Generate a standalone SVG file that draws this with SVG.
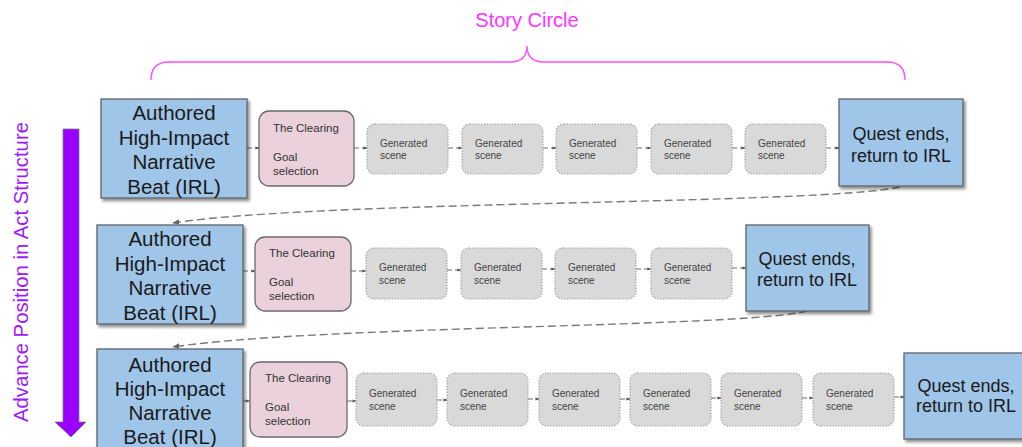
<svg xmlns="http://www.w3.org/2000/svg" width="1022" height="447" viewBox="0 0 1022 447">
<defs>
<style>
.blue{fill:#9fc5e8;stroke:#5f6368;stroke-width:1.3;filter:url(#sh)}
.pink{fill:#ead1dc;stroke:#6b6b6b;stroke-width:1.3}
.gen{fill:#d9d9d9;stroke:#9a9a9a;stroke-width:1.2;stroke-dasharray:1.2 1.6}
.t{font-family:"Liberation Sans",Arial,sans-serif;fill:#1a1a1a}
.bt{font-size:20.5px;text-anchor:middle}
.qt{font-size:18px;text-anchor:middle}
.pt{font-size:11.5px;fill:#333}
.gt{font-size:10px;fill:#444}
.c{fill:none;stroke:#6a6a6a;stroke-width:1.2;stroke-dasharray:5 3}
.r{fill:none;stroke:#7a7a7a;stroke-width:1.4;stroke-dasharray:8 4}
</style>
<filter id="sh" x="-10%" y="-10%" width="130%" height="130%">
<feDropShadow dx="2" dy="2.5" stdDeviation="1.8" flood-color="#000" flood-opacity="0.45"/>
</filter>
<marker id="ah" viewBox="0 0 10 10" refX="9" refY="5" markerWidth="4" markerHeight="4" orient="auto" markerUnits="userSpaceOnUse">
<path d="M0,1 L10,5 L0,9 z" fill="#555"/>
</marker>
<marker id="ah2" viewBox="0 0 10 10" refX="9" refY="5" markerWidth="7" markerHeight="7" orient="auto" markerUnits="userSpaceOnUse">
<path d="M0,1 L10,5 L0,9 z" fill="#666"/>
</marker>
</defs>

<g id="story-circle">
<text x="527" y="27" font-family="Liberation Sans, Arial, sans-serif" font-size="20" fill="#ff33ff" text-anchor="middle">Story Circle</text>
<path d="M151,80 Q151,62 169,62 L510,62 Q527,62 527,46 Q527,62 544,62 L887,62 Q905,62 905,80" fill="none" stroke="#ff4dff" stroke-width="1.4"/>
</g>

<g id="act-axis">
<text transform="translate(28,272) rotate(-90)" font-family="Liberation Sans, Arial, sans-serif" font-size="20.3" fill="#9d1aff" text-anchor="middle">Advance Position in Act Structure</text>
<path d="M63,129 L79,129 L79,422 L86,422 L71,437 L55,422 L63,422 Z" fill="#9900ff" stroke="#7a7a7a" stroke-width="0.8"/>
</g>

<g id="connectors">
<line class="c" x1="247" y1="148" x2="259" y2="148" marker-end="url(#ah)"/>
<line class="c" x1="354" y1="148" x2="367" y2="148" marker-end="url(#ah)"/>
<line class="c" x1="448" y1="148" x2="462" y2="148" marker-end="url(#ah)"/>
<line class="c" x1="543" y1="148" x2="556" y2="148" marker-end="url(#ah)"/>
<line class="c" x1="637" y1="148" x2="651" y2="148" marker-end="url(#ah)"/>
<line class="c" x1="732" y1="148" x2="745" y2="148" marker-end="url(#ah)"/>
<line class="c" x1="826" y1="148" x2="839" y2="148" marker-end="url(#ah)"/>
<line class="c" x1="243" y1="271" x2="255" y2="271" marker-end="url(#ah)"/>
<line class="c" x1="351" y1="271" x2="366" y2="271" marker-end="url(#ah)"/>
<line class="c" x1="447" y1="270" x2="461" y2="270" marker-end="url(#ah)"/>
<line class="c" x1="542" y1="269" x2="555" y2="269" marker-end="url(#ah)"/>
<line class="c" x1="636" y1="269" x2="651" y2="269" marker-end="url(#ah)"/>
<line class="c" x1="732" y1="268" x2="746" y2="268" marker-end="url(#ah)"/>
<line class="c" x1="243" y1="401" x2="250" y2="401" marker-end="url(#ah)"/>
<line class="c" x1="347" y1="401" x2="356" y2="401" marker-end="url(#ah)"/>
<line class="c" x1="437" y1="400" x2="447" y2="400" marker-end="url(#ah)"/>
<line class="c" x1="528" y1="399" x2="539" y2="399" marker-end="url(#ah)"/>
<line class="c" x1="620" y1="399" x2="630" y2="399" marker-end="url(#ah)"/>
<line class="c" x1="711" y1="398" x2="721" y2="398" marker-end="url(#ah)"/>
<line class="c" x1="802" y1="398" x2="813" y2="398" marker-end="url(#ah)"/>
<line class="c" x1="894" y1="397" x2="904" y2="397" marker-end="url(#ah)"/>
<path class="r" d="M900,187 C820,205 320,200 173,223" marker-end="url(#ah2)"/>
<path class="r" d="M807,311 C740,328 320,325 173,347" marker-end="url(#ah2)"/>
</g>

<g id="beat1">
<rect class="blue" x="101" y="99" width="146" height="99"/>
<text class="t bt" x="174" y="120">Authored</text>
<text class="t bt" x="174" y="144.5">High-Impact</text>
<text class="t bt" x="174" y="169">Narrative</text>
<text class="t bt" x="174" y="193.5">Beat (IRL)</text>
</g>
<g id="clearing1">
<rect class="pink" x="259" y="111" width="95" height="75" rx="10"/>
<text class="t pt" x="273" y="132">The Clearing</text>
<text class="t pt" x="273" y="161">Goal</text>
<text class="t pt" x="273" y="175">selection</text>
</g>
<g id="gen1-1"><rect class="gen" x="367" y="124" width="81" height="50" rx="8"/><text class="t gt" x="380" y="146.5">Generated</text><text class="t gt" x="380" y="159">scene</text></g>
<g id="gen1-2"><rect class="gen" x="462" y="124" width="81" height="50" rx="8"/><text class="t gt" x="475" y="146.5">Generated</text><text class="t gt" x="475" y="159">scene</text></g>
<g id="gen1-3"><rect class="gen" x="556" y="124" width="81" height="50" rx="8"/><text class="t gt" x="569" y="146.5">Generated</text><text class="t gt" x="569" y="159">scene</text></g>
<g id="gen1-4"><rect class="gen" x="651" y="124" width="81" height="50" rx="8"/><text class="t gt" x="664" y="146.5">Generated</text><text class="t gt" x="664" y="159">scene</text></g>
<g id="gen1-5"><rect class="gen" x="745" y="124" width="81" height="50" rx="8"/><text class="t gt" x="758" y="146.5">Generated</text><text class="t gt" x="758" y="159">scene</text></g>
<g id="end1">
<rect class="blue" x="839" y="99" width="124" height="87"/>
<text class="t qt" x="901" y="139.5">Quest ends,</text>
<text class="t qt" x="901" y="161.5">return to IRL</text>
</g>

<g id="beat2">
<rect class="blue" x="97" y="225" width="146" height="99"/>
<text class="t bt" x="170" y="246">Authored</text>
<text class="t bt" x="170" y="270.5">High-Impact</text>
<text class="t bt" x="170" y="295">Narrative</text>
<text class="t bt" x="170" y="319.5">Beat (IRL)</text>
</g>
<g id="clearing2">
<rect class="pink" x="255" y="237" width="96" height="74" rx="10"/>
<text class="t pt" x="269" y="257">The Clearing</text>
<text class="t pt" x="269" y="286">Goal</text>
<text class="t pt" x="269" y="300">selection</text>
</g>
<g id="gen2-1"><rect class="gen" x="366" y="248" width="81" height="51" rx="8"/><text class="t gt" x="379" y="271">Generated</text><text class="t gt" x="379" y="283.5">scene</text></g>
<g id="gen2-2"><rect class="gen" x="461" y="248" width="81" height="51" rx="8"/><text class="t gt" x="474" y="271">Generated</text><text class="t gt" x="474" y="283.5">scene</text></g>
<g id="gen2-3"><rect class="gen" x="555" y="248" width="81" height="51" rx="8"/><text class="t gt" x="568" y="271">Generated</text><text class="t gt" x="568" y="283.5">scene</text></g>
<g id="gen2-4"><rect class="gen" x="651" y="248" width="81" height="51" rx="8"/><text class="t gt" x="664" y="271">Generated</text><text class="t gt" x="664" y="283.5">scene</text></g>
<g id="end2">
<rect class="blue" x="746" y="225" width="123" height="86"/>
<text class="t qt" x="807" y="264.5">Quest ends,</text>
<text class="t qt" x="807" y="286">return to IRL</text>
</g>

<g id="beat3">
<rect class="blue" x="97" y="349" width="146" height="99"/>
<text class="t bt" x="170" y="372">Authored</text>
<text class="t bt" x="170" y="396">High-Impact</text>
<text class="t bt" x="170" y="420">Narrative</text>
<text class="t bt" x="170" y="444">Beat (IRL)</text>
</g>
<g id="clearing3">
<rect class="pink" x="250" y="362" width="97" height="75" rx="10"/>
<text class="t pt" x="265" y="382">The Clearing</text>
<text class="t pt" x="265" y="411">Goal</text>
<text class="t pt" x="265" y="425">selection</text>
</g>
<g id="gen3-1"><rect class="gen" x="356" y="373" width="81" height="53" rx="8"/><text class="t gt" x="369" y="397">Generated</text><text class="t gt" x="369" y="409.5">scene</text></g>
<g id="gen3-2"><rect class="gen" x="447" y="373" width="81" height="53" rx="8"/><text class="t gt" x="460" y="397">Generated</text><text class="t gt" x="460" y="409.5">scene</text></g>
<g id="gen3-3"><rect class="gen" x="539" y="373" width="81" height="53" rx="8"/><text class="t gt" x="552" y="397">Generated</text><text class="t gt" x="552" y="409.5">scene</text></g>
<g id="gen3-4"><rect class="gen" x="630" y="373" width="81" height="53" rx="8"/><text class="t gt" x="643" y="397">Generated</text><text class="t gt" x="643" y="409.5">scene</text></g>
<g id="gen3-5"><rect class="gen" x="721" y="373" width="81" height="53" rx="8"/><text class="t gt" x="734" y="397">Generated</text><text class="t gt" x="734" y="409.5">scene</text></g>
<g id="gen3-6"><rect class="gen" x="813" y="373" width="81" height="53" rx="8"/><text class="t gt" x="826" y="397">Generated</text><text class="t gt" x="826" y="409.5">scene</text></g>
<g id="end3">
<rect class="blue" x="904" y="353" width="124" height="86"/>
<text class="t qt" x="966" y="391.5">Quest ends,</text>
<text class="t qt" x="966" y="412">return to IRL</text>
</g>
</svg>
